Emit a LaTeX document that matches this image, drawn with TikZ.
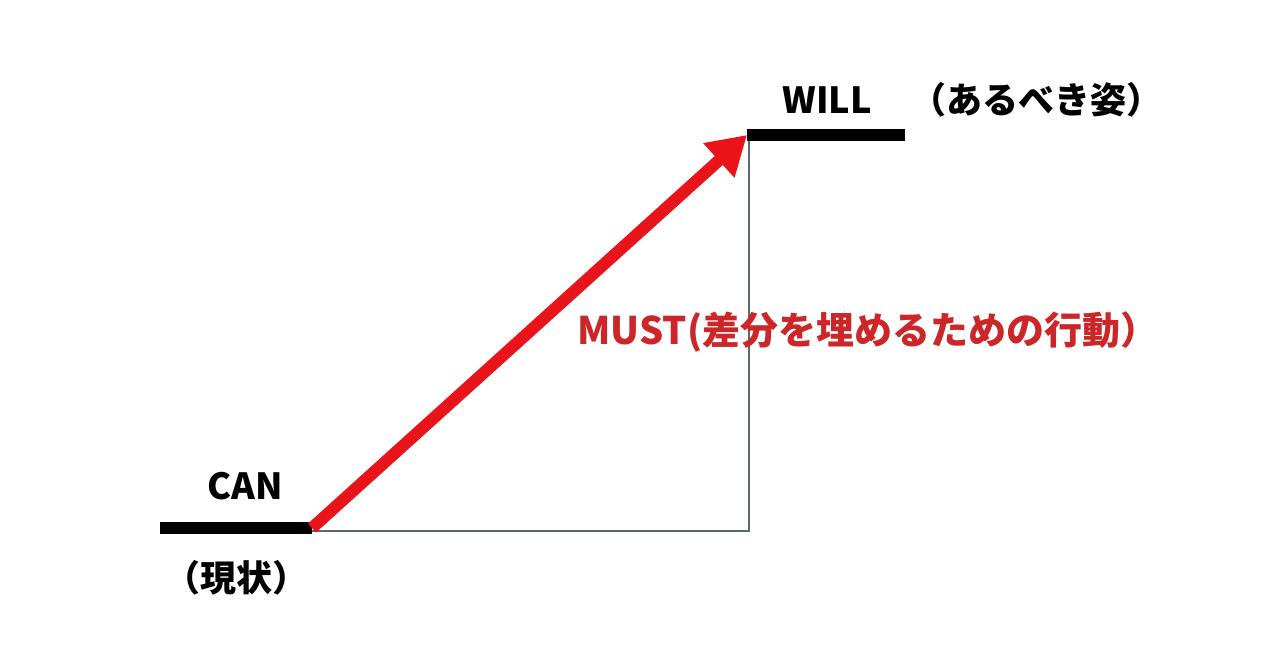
\documentclass[tikz,border=0pt]{standalone}
\usepackage{fontspec}
\setmainfont{Noto Sans CJK JP}
\usetikzlibrary{arrows.meta}
\definecolor{arrowred}{RGB}{232,20,26}
\definecolor{textred}{RGB}{204,38,40}
\definecolor{guide}{RGB}{88,104,118}
\tikzset{
  level/.style={line width=6pt},
  label/.style={font=\fontsize{18}{20}\selectfont\bfseries},
}
\begin{document}
\begin{tikzpicture}[x=0.5pt,y=-0.5pt]
\useasboundingbox (0,0) rectangle (1280,670);
\coordinate (canL) at (160,528);
\coordinate (canR) at (312,528);
\coordinate (willL) at (747,135);
\coordinate (willR) at (905,135);
\coordinate (corner) at (749,531);
\draw[guide,line width=0.8pt] (749,135) -- (corner) -- (canR |- corner);
\draw[level] (canL) -- (canR);
\draw[level] (willL) -- (willR);
\draw[arrowred,line width=6pt,-{Triangle[length=19pt,width=22pt]}] (canR) -- (willL);
\node[label] (can) at (245,486) {CAN};
\node[label] (now) at (236,578) {（現状）};
\node[label] (will) at (827,100) {WILL};
\node[label] (ideal) at (1036,100) {（あるべき姿）};
\node[label,textred,font=\fontsize{19}{21}\selectfont\bfseries] (must) at (868,332) {MUST(差分を埋めるための行動）};
\end{tikzpicture}
\end{document}
